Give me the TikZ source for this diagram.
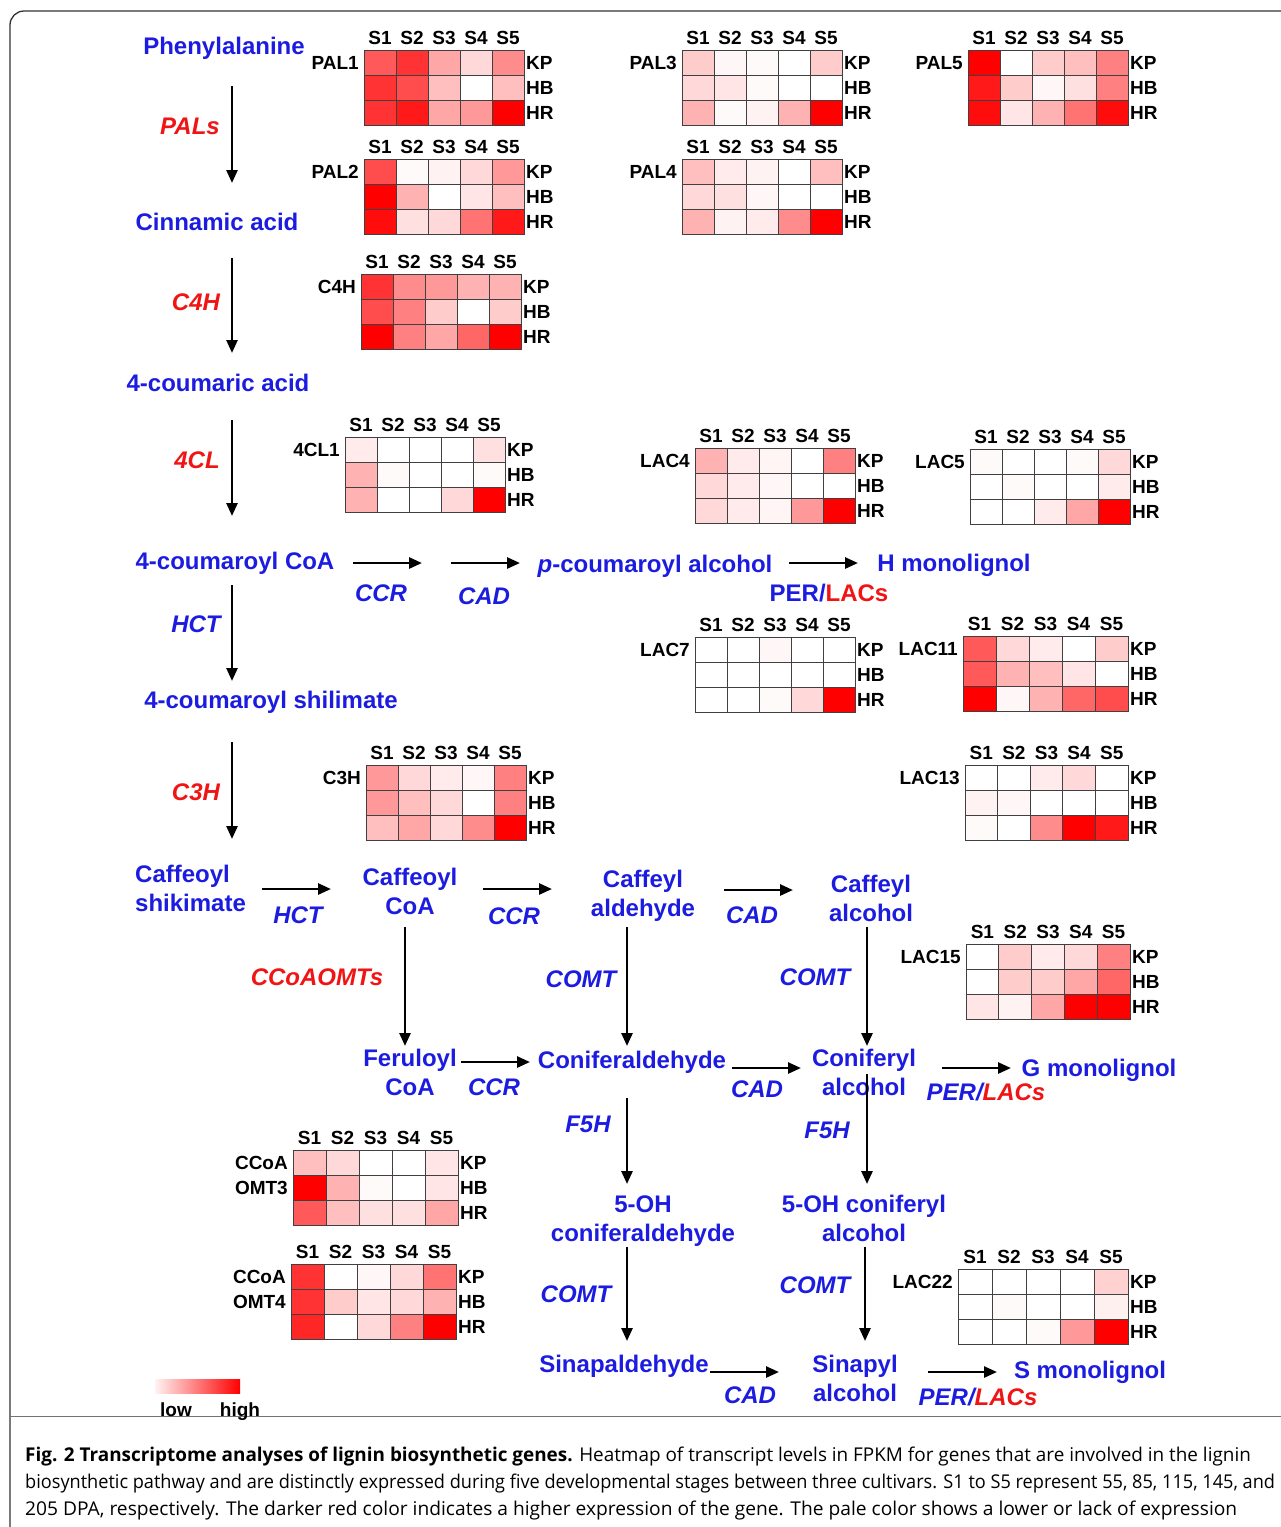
\documentclass[tikz,border=0pt]{standalone}
\usepackage{fontspec}
\setmainfont{Liberation Sans}
\newfontfamily\capfont{Open Sans}
\usetikzlibrary{arrows.meta}
\definecolor{tblue}{RGB}{28,28,225}
\definecolor{tred}{RGB}{240,20,20}
\definecolor{hred}{RGB}{255,0,0}
\tikzset{
 met/.style={text=tblue, font=\bfseries\fontsize{24}{28}\selectfont, inner sep=0pt, text height=17pt, text depth=0pt},
 enz/.style={text=tred, font=\bfseries\itshape\fontsize{24}{28}\selectfont, inner sep=0pt, text height=17pt, text depth=0pt},
 enzb/.style={enz, text=tblue},
 hlab/.style={font=\bfseries\fontsize{19}{22}\selectfont, inner sep=0pt, text height=13.6pt, text depth=0pt},
 cellbox/.style={draw=black!75, line width=0.9pt},
 arr/.style={-{Triangle[length=13pt,width=11pt]}, line width=2.6pt},
}
% #1 id, #2 x, #3 y, #4 cell width, #5 gene label, #6 values (row-major, KP HB HR)
\newcommand\hmap[6]{%
 \begin{scope}[shift={(#2,#3)}]
  \foreach \hv [count=\hi from 0] in {#6} {
    \pgfmathtruncatemacro\hrow{floor(\hi/5)}
    \pgfmathtruncatemacro\hcol{\hi-5*\hrow}
    \filldraw[cellbox, fill=hred!\hv!white] (\hcol*#4,\hrow*25) rectangle ++(#4,25);
  }
  \foreach \hs [count=\hj] in {S1,S2,S3,S4,S5}
    \node[hlab] (#1-s\hj) at ({(\hj-0.5)*#4},-12) {\hs};
  \node[hlab,anchor=west] (#1-kp) at (5*#4+2,12.5) {KP};
  \node[hlab,anchor=west] (#1-hb) at (5*#4+2,37.5) {HB};
  \node[hlab,anchor=west] (#1-hr) at (5*#4+2,62.5) {HR};
  \node[hlab,anchor=east] (#1-name) at (-5,12.5) {#5};
 \end{scope}}
\begin{document}
\begin{tikzpicture}[x=1pt,y=-1pt]
\useasboundingbox (0,0) rectangle (1281,1527);
\fill[white] (0,0) rectangle (1281,1527);
% frame
\draw[black!80, line width=1.3pt, rounded corners=14pt] (1283,11) -- (10,11) -- (10,1530);
\draw[black!55, line width=0.8pt] (10,1416) -- (1283,1416);

% heatmaps
\hmap{pal1}{364}{50}{32}{PAL1}{65,80,35,15,45, 80,70,25,0,25, 80,90,35,40,100}
\hmap{pal2}{364}{159}{32}{PAL2}{70,2,5,15,40, 100,30,0,10,25, 95,12,15,55,90}
\hmap{pal3}{682}{50}{32}{PAL3}{20,3,2,0,20, 15,10,2,0,0, 30,2,5,30,100}
\hmap{pal4}{682}{159}{32}{PAL4}{25,8,5,0,25, 15,12,3,0,0, 30,5,8,45,100}
\hmap{pal5}{968}{50}{32}{PAL5}{100,0,20,25,50, 90,20,3,12,50, 95,10,30,55,95}
\hmap{c4h}{361}{274}{32}{C4H}{80,45,40,30,30, 70,50,20,0,20, 100,50,35,60,100}
\hmap{cl1}{345}{437}{32}{4CL1}{8,0,0,0,12, 30,2,0,0,2, 30,0,0,15,100}
\hmap{lac4}{695}{448}{32}{LAC4}{30,8,4,0,50, 15,8,3,0,0, 15,8,4,40,100}
\hmap{lac5}{970}{449}{32}{LAC5}{2,0,0,2,15, 0,2,0,0,8, 0,0,8,35,100}
\hmap{lac7}{695}{637}{32}{LAC7}{0,0,3,0,0, 0,0,0,0,0, 0,0,2,15,100}
\hmap{lac11}{963}{636}{33}{LAC11}{65,15,8,0,20, 65,30,25,10,0, 100,3,30,60,70}
\hmap{c3h}{366}{765}{32}{C3H}{40,15,8,3,50, 40,25,15,0,50, 25,35,15,45,100}
\hmap{lac13}{965}{765}{32.6}{LAC13}{0,0,8,15,0, 5,3,0,0,0, 2,0,45,100,90}
\hmap{lac15}{966}{944}{32.8}{LAC15}{0,20,8,15,50, 0,20,20,35,60, 10,5,35,100,100}
\hmap{omt3}{293}{1150}{33}{}{25,15,0,0,10, 100,30,2,0,10, 65,25,12,12,35}
\hmap{omt4}{291}{1264}{33}{}{80,0,3,15,55, 80,20,10,15,30, 85,0,15,50,100}
\hmap{lac22}{958}{1269}{34}{LAC22}{0,0,0,0,18, 0,2,0,0,6, 0,0,2,40,100}
\node[hlab,anchor=east] (omt3-a) at (288,1162.5) {CCoA};
\node[hlab,anchor=east] (omt3-b) at (288,1187.5) {OMT3};
\node[hlab,anchor=east] (omt4-a) at (286,1276.5) {CCoA};
\node[hlab,anchor=east] (omt4-b) at (286,1301.5) {OMT4};

% main vertical pathway
\node[met] (phe) at (224,46) {Phenylalanine};
\node[met] (cin) at (217,222) {Cinnamic acid};
\node[met] (cma) at (218,383) {4-coumaric acid};
\node[met] (cco) at (235,561) {4-coumaroyl CoA};
\node[met] (csh) at (271,700) {4-coumaroyl shilimate};
\node[enz] (pals) at (190,126) {PALs};
\node[enz] (c4h) at (196,302) {C4H};
\node[enz] (cl4) at (197,460) {4CL};
\node[enzb] (hct1) at (196,624) {HCT};
\node[enz] (c3h) at (196,792) {C3H};
\coordinate (v1a) at (232,86);  \coordinate (v1b) at (232,183);
\coordinate (v2a) at (232,258); \coordinate (v2b) at (232,353);
\coordinate (v3a) at (232,420); \coordinate (v3b) at (232,516);
\coordinate (v4a) at (232,585); \coordinate (v4b) at (232,681);
\coordinate (v5a) at (232,742); \coordinate (v5b) at (232,839);
\draw[arr] (v1a) -- (v1b);
\draw[arr] (v2a) -- (v2b);
\draw[arr] (v3a) -- (v3b);
\draw[arr] (v4a) -- (v4b);
\draw[arr] (v5a) -- (v5b);

% H branch
\node[met] (pca) at (655,564) {{\itshape p}-coumaroyl alcohol};
\node[met] (hmono) at (954,563) {H monolignol};
\node[enzb] (ccr1) at (381,593) {CCR};
\node[enzb] (cad1) at (484,596) {CAD};
\node[met] (perh) at (829,593) {PER/{\color{tred}LACs}};
\coordinate (h1a) at (353,563); \coordinate (h1b) at (422,563);
\coordinate (h2a) at (451,563); \coordinate (h2b) at (520,563);
\coordinate (h3a) at (789,563); \coordinate (h3b) at (858,563);
\draw[arr] (h1a) -- (h1b);
\draw[arr] (h2a) -- (h2b);
\draw[arr] (h3a) -- (h3b);

% caffeoyl row
\node[met,anchor=west] (cafs1) at (135,874) {Caffeoyl};
\node[met,anchor=west] (cafs2) at (135,903) {shikimate};
\node[met] (cafc1) at (410,877) {Caffeoyl};
\node[met] (cafc2) at (410,906) {CoA};
\node[met] (cafa1) at (643,879) {Caffeyl};
\node[met] (cafa2) at (643,908) {aldehyde};
\node[met] (cafl1) at (871,884) {Caffeyl};
\node[met] (cafl2) at (871,913) {alcohol};
\node[enzb] (hct2) at (298,915) {HCT};
\node[enzb] (ccr2) at (514,916) {CCR};
\node[enzb] (cad2) at (752,915) {CAD};
\coordinate (h4a) at (262,889); \coordinate (h4b) at (331,889);
\coordinate (h5a) at (483,889); \coordinate (h5b) at (552,889);
\coordinate (h6a) at (724,890); \coordinate (h6b) at (793,890);
\draw[arr] (h4a) -- (h4b);
\draw[arr] (h5a) -- (h5b);
\draw[arr] (h6a) -- (h6b);

% down to feruloyl row
\node[enz] (ccoaomt) at (317,977) {CCoAOMTs};
\node[enzb] (comt1) at (581,979) {COMT};
\node[enzb] (comt2) at (815,977) {COMT};
\coordinate (v6a) at (405,927); \coordinate (v6b) at (405,1046);
\coordinate (v7a) at (627,927); \coordinate (v7b) at (627,1046);
\coordinate (v8a) at (867,927); \coordinate (v8b) at (867,1046);
\draw[arr] (v6a) -- (v6b);
\draw[arr] (v7a) -- (v7b);
\draw[arr] (v8a) -- (v8b);

% feruloyl row
\node[met] (fer1) at (410,1058) {Feruloyl};
\node[met] (fer2) at (410,1087) {CoA};
\node[met] (conald) at (632,1060) {Coniferaldehyde};
\node[met] (conalc1) at (864,1058) {Coniferyl};
\node[met] (conalc2) at (864,1087) {alcohol};
\node[met] (gmono) at (1099,1068) {G monolignol};
\node[enzb] (ccr3) at (494,1087) {CCR};
\node[enzb] (cad3) at (757,1089) {CAD};
\node[enzb] (perg) at (986,1092) {PER/{\color{tred}LACs}};
\coordinate (h7a) at (461,1062); \coordinate (h7b) at (530,1062);
\coordinate (h8a) at (732,1068); \coordinate (h8b) at (801,1068);
\coordinate (h9a) at (942,1068); \coordinate (h9b) at (1011,1068);
\draw[arr] (h7a) -- (h7b);
\draw[arr] (h8a) -- (h8b);
\draw[arr] (h9a) -- (h9b);

% F5H
\node[enzb] (f5h1) at (588,1124) {F5H};
\node[enzb] (f5h2) at (827,1130) {F5H};
\coordinate (v9a) at (627,1098); \coordinate (v9b) at (627,1184);
\coordinate (v10a) at (867,1074); \coordinate (v10b) at (867,1184);
\draw[arr] (v9a) -- (v9b);
\draw[arr] (v10a) -- (v10b);
\node[met] (oh1a) at (643,1204) {5-OH};
\node[met] (oh1b) at (643,1233) {coniferaldehyde};
\node[met] (oh2a) at (864,1204) {5-OH coniferyl};
\node[met] (oh2b) at (864,1233) {alcohol};

% COMT to sinapyl
\node[enzb] (comt3) at (576,1294) {COMT};
\node[enzb] (comt4) at (815,1285) {COMT};
\coordinate (v11a) at (627,1247); \coordinate (v11b) at (627,1341);
\coordinate (v12a) at (865,1247); \coordinate (v12b) at (865,1341);
\draw[arr] (v11a) -- (v11b);
\draw[arr] (v12a) -- (v12b);
\node[met] (sinald) at (624,1364) {Sinapaldehyde};
\node[met] (sinalc1) at (855,1364) {Sinapyl};
\node[met] (sinalc2) at (855,1393) {alcohol};
\node[met] (smono) at (1090,1370) {S monolignol};
\node[enzb] (cad4) at (750,1395) {CAD};
\node[enzb] (pers) at (978,1397) {PER/{\color{tred}LACs}};
\coordinate (h10a) at (710,1372); \coordinate (h10b) at (779,1372);
\coordinate (h11a) at (928,1372); \coordinate (h11b) at (997,1372);
\draw[arr] (h10a) -- (h10b);
\draw[arr] (h11a) -- (h11b);

% legend
\shade[left color=hred!5!white, right color=hred] (155,1379) rectangle (240,1393);
\node[hlab] (low) at (176,1410) {low};
\node[hlab] (high) at (240,1410) {high};

% caption
\begin{scope}[every node/.style={anchor=base west, inner sep=0pt, font=\capfont\fontsize{19}{27}\selectfont}]
\node (cap1) at (25,1461) {\scalebox{0.995}[1]{{\bfseries Fig. 2 Transcriptome analyses of lignin biosynthetic genes.} Heatmap of transcript levels in FPKM for genes that are involved in the lignin}};
\node (cap2) at (25,1488) {\scalebox{0.955}[1]{biosynthetic pathway and are distinctly expressed during five developmental stages between three cultivars. S1 to S5 represent 55, 85, 115, 145, and}};
\node (cap3) at (25,1515) {\scalebox{1.01}[1]{205 DPA, respectively. The darker red color indicates a higher expression of the gene. The pale color shows a lower or lack of expression}};
\end{scope}
\end{tikzpicture}
\end{document}
